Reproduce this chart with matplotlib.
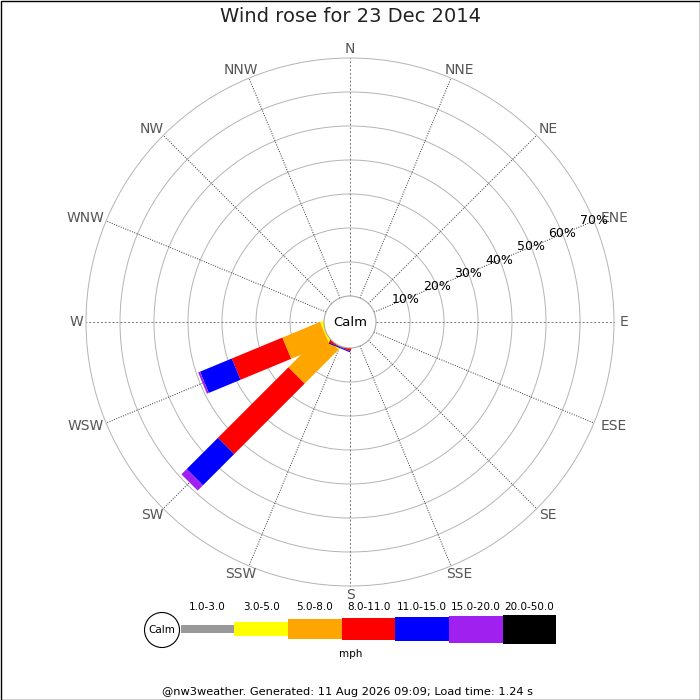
#!/usr/bin/env python3
# Wind rose for one day, drawn as straight bars on a ring grid
import numpy as np
import matplotlib
matplotlib.use("Agg")
import matplotlib.pyplot as plt
from matplotlib.patches import Circle, Polygon, Rectangle

# Data
directions = ["N", "NNE", "NE", "ENE", "E", "ESE", "SE", "SSE",
              "S", "SSW", "SW", "WSW", "W", "WNW", "NW", "NNW"]
speed_bins = ["1.0-3.0", "3.0-5.0", "5.0-8.0", "8.0-11.0",
              "11.0-15.0", "15.0-20.0", "20.0-50.0"]
bin_colours = ["#999999", "#ffff00", "#ffa500", "#ff0000",
               "#0000ff", "#a020f0", "#000000"]
# percent of time per direction per speed bin (only non zero rows)
freq_ssw = [0.0, 0.0, 0.0, 0.3, 0.3, 0.0, 0.0]
freq_sw = [0.0, 0.5, 14.1, 29.3, 13.0, 2.2, 0.0]
freq_wsw = [0.0, 0.5, 12.0, 16.1, 10.1, 0.6, 0.0]
ring_pct = [10, 20, 30, 40, 50, 60, 70]
title = "Wind rose for 23 Dec 2014"
footer = "@nw3weather. Generated: 11 Aug 2026 09:09; Load time: 1.24 s"

freq = np.zeros((len(directions), len(speed_bins)))
freq[directions.index("SSW")] = freq_ssw
freq[directions.index("SW")] = freq_sw
freq[directions.index("WSW")] = freq_wsw
draw_order = ["SW", "WSW", "SSW"]

# geometry (pixels -> percent units)
px = 3.4              # pixels per percent
cx, cy = 350, 322     # centre of rose in image pixels
calm_r = 26 / px      # calm circle radius in percent units
half_w = 11.5 / px    # half width of a bar

fig = plt.figure(figsize=(7, 7), dpi=100)
ax = fig.add_axes([0, 0, 1, 1])
ax.set_xlim(-cx / px, (700 - cx) / px)
ax.set_ylim(-(700 - cy) / px, cy / px)
ax.set_aspect("equal")
ax.axis("off")

# rings
for p in ring_pct:
    ax.add_patch(Circle((0, 0), calm_r + p, fill=False, ec="#b4b4b4", lw=0.7, zorder=1))

# spokes and direction labels
r_out = calm_r + ring_pct[-1]
for i, d in enumerate(directions):
    th = np.radians(i * 22.5)
    s, c = np.sin(th), np.cos(th)
    if i % 4 == 0:
        ax.plot([calm_r * s, r_out * s], [calm_r * c, r_out * c], color="#777777",
                lw=0.7, dashes=(2, 2), zorder=2)
    else:
        ax.plot([calm_r * s, r_out * s], [calm_r * c, r_out * c], color="#333333",
                lw=0.7, dashes=(1, 1.5), zorder=2)
    shift = max(0, 6 * len(d) - 5) * s / px
    rl = 273 / px
    ax.text(rl * s + shift, rl * c, d, ha="center", va="center", fontsize=10,
            color="#555555", zorder=3)

# bars
for d in draw_order:
    i = directions.index(d)
    th = np.radians(i * 22.5)
    u = np.array([np.sin(th), np.cos(th)])
    n = np.array([np.cos(th), -np.sin(th)])
    cum = np.concatenate([[0], np.cumsum(freq[i])])
    for b in range(len(speed_bins)):
        if freq[i, b] <= 0:
            continue
        r0 = calm_r + cum[b]
        if cum[b] == 0:
            r0 = calm_r - 1.5
        r1 = calm_r + cum[b + 1]
        pts = [r0 * u + half_w * n, r1 * u + half_w * n,
               r1 * u - half_w * n, r0 * u - half_w * n]
        ax.add_patch(Polygon(pts, closed=True, fc=bin_colours[b], ec="none", zorder=4))

# calm circle on top
ax.add_patch(Circle((0, 0), calm_r, fc="white", ec="#aaaaaa", lw=0.8, zorder=5))
ax.text(0, 0, "Calm", ha="center", va="center", fontsize=9.5, zorder=6)

# percent labels along ENE spoke
th = np.radians(67.5)
for p in ring_pct:
    r = calm_r + p
    ax.text(r * np.sin(th), r * np.cos(th), "%d%%" % p, ha="center", va="center",
            fontsize=9, zorder=6)

# overlay in pixel coords for title, legend, footer
ov = fig.add_axes([0, 0, 1, 1])
ov.set_xlim(0, 700)
ov.set_ylim(700, 0)
ov.axis("off")
ov.patch.set_alpha(0)

ov.text(350, 16.5, title, ha="center", va="center", fontsize=14, color="#222222")

# legend
ov.add_patch(Circle((162, 630), 17.5, fc="white", ec="black", lw=0.8))
ov.text(162, 630, "Calm", ha="center", va="center", fontsize=7.5)
box_h = [8, 14.3, 20.3, 22.3, 24.3, 26.7, 29]
x0, bw = 180.5, 53.7
for b, lab in enumerate(speed_bins):
    xb = x0 + b * bw
    ov.add_patch(Rectangle((xb, 629.3 - box_h[b] / 2), bw, box_h[b],
                           fc=bin_colours[b], ec="none"))
    ov.text(xb + bw / 2, 607.5, lab, ha="center", va="center", fontsize=7.5)
ov.text(351, 654, "mph", ha="center", va="center", fontsize=7.5)

ov.text(348, 692, footer, ha="center", va="center", fontsize=8.2)

# frame
ov.add_patch(Rectangle((0.5, 0.5), 699, 699, fill=False, ec="black", lw=1))

fig.savefig("out.png", dpi=100)
